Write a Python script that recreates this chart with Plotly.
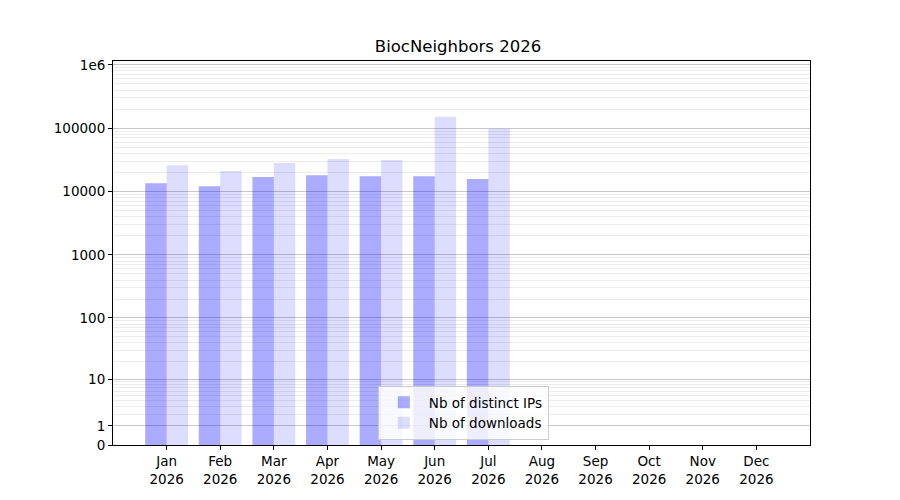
import numpy as np
import plotly.graph_objects as go

months = ["Jan", "Feb", "Mar", "Apr", "May", "Jun", "Jul", "Aug", "Sep", "Oct", "Nov", "Dec"]
year = "2026"
distinct_ips = [13550, 12100, 16900, 18100, 17500, 17500, 15700]
downloads = [26100, 21000, 28100, 32600, 31400, 151000, 97500]
ytick_values = [0, 1, 10, 100, 1000, 10000, 100000, 1000000]
ytick_labels = ["0", "1", "10", "100", "1000", "10000", "100000", "1e6"]


def tr(v):
    # the axis is log10(value + 1)
    return np.log10(np.asarray(v, dtype=float) + 1)


x_idx = list(range(len(months)))
minor_vals = [tr(k * 10 ** n) for n in range(0, 6) for k in range(2, 10)]

fig = go.Figure()
fig.add_trace(go.Bar(
    x=x_idx[:len(distinct_ips)], y=tr(distinct_ips), name="Nb of distinct IPs",
    marker=dict(color="rgba(0,0,255,0.33)", line=dict(width=0)),
))
fig.add_trace(go.Bar(
    x=x_idx[:len(downloads)], y=tr(downloads), name="Nb of downloads",
    marker=dict(color="rgba(0,0,255,0.135)", line=dict(width=0)),
))

fig.update_layout(
    width=900, height=500,
    paper_bgcolor="white", plot_bgcolor="white",
    font=dict(family="DejaVu Sans", size=13.5, color="black"),
    title=dict(text="BiocNeighbors 2026", x=0.5, xanchor="center", y=0.924, yanchor="middle",
               font=dict(size=16.5)),
    margin=dict(l=105, r=98, t=53, b=63),
    barmode="group", bargap=0.2, bargroupgap=0,
    legend=dict(x=0.38, y=0.013, xanchor="left", yanchor="bottom",
                bgcolor="rgba(255,255,255,0.8)", bordercolor="#cccccc", borderwidth=1,
                font=dict(size=13.5), itemwidth=40),
    showlegend=True,
)
fig.update_xaxes(
    range=[-1, 12], tickmode="array", tickvals=x_idx,
    ticktext=[f"{m}<br>{year}" for m in months],
    showgrid=False, zeroline=False, showline=True, linecolor="black", linewidth=1,
    mirror=True, ticks="outside", ticklen=4, tickcolor="black",
)
fig.update_yaxes(
    range=[0, 6.06], tickmode="array", tickvals=tr(ytick_values), ticktext=ytick_labels,
    showgrid=True, gridcolor="#c8c8c8", gridwidth=1, zeroline=False,
    showline=True, linecolor="black", linewidth=1, mirror=True,
    ticks="outside", ticklen=4, tickcolor="black",
    minor=dict(tickvals=minor_vals, showgrid=True, gridcolor="#ececec", gridwidth=1, ticks=""),
)

fig.write_html("out.html")
